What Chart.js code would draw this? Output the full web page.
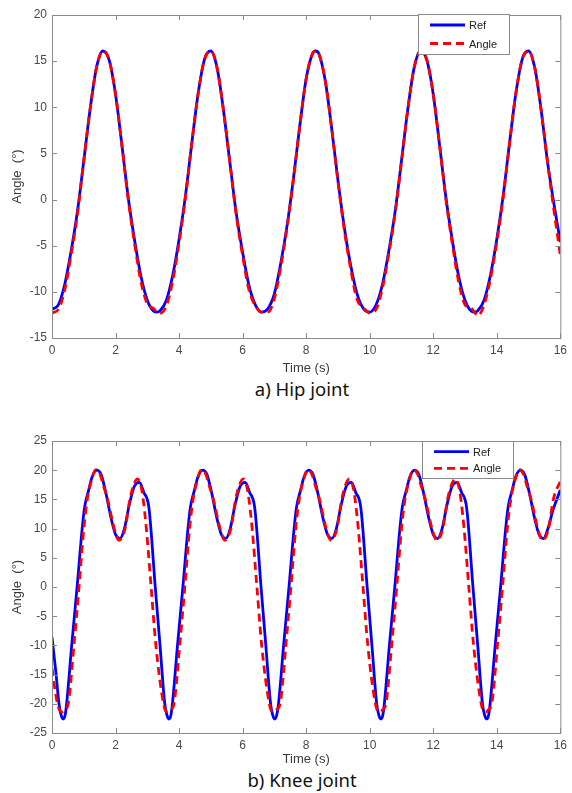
<!DOCTYPE html>
<html>
<head>
<meta charset="utf-8">
<script src="https://cdn.jsdelivr.net/npm/chart.js@4.4.0/dist/chart.umd.min.js"></script>
<style>
body{margin:0;background:#fff;width:572px;height:793px;position:relative;overflow:hidden}
canvas{position:absolute;left:0}
#hip{top:0}
#knee{top:420px}
.cap{position:absolute;left:0;width:604px;text-align:center;font-family:"Noto Sans",sans-serif;font-size:18.5px;line-height:20px;color:#111}
</style>
</head>
<body>
<canvas id="hip" width="572" height="376"></canvas>
<div class="cap" style="top:379px">a) Hip joint</div>
<canvas id="knee" width="572" height="347"></canvas>
<div class="cap" style="top:770px">b) Knee joint</div>
<script>
// ---- data ----
// hip joint, time (s) and angle (deg)
let hipTime=[0,0.2,0.4,0.6,0.8,1.0,1.2,1.4,1.6,1.8,2.0,2.2,2.4,2.6,2.8,3.0,3.2,3.3,3.4,3.6,3.8,
 4.0,4.2,4.4,4.6,4.8,5.0,5.2,5.4,5.6,5.8,6.0,6.2,6.4,6.6,6.8,7.0,7.2,7.4,7.6,7.8,8.0,8.2,8.3,8.4,8.6,8.8,
 9.0,9.2,9.4,9.6,9.8,10.0,10.2,10.4,10.6,10.8,11.0,11.2,11.4,11.6,11.8,12.0,12.2,12.4,12.6,12.8,13.0,13.2,13.3,13.4,13.6,13.8,
 14.0,14.2,14.4,14.6,14.8,15.0,15.2,15.4,15.6,15.8,16.0];
let hipRef=[-11.9,-11.4,-9.2,-5.6,-1.3,4.2,9.8,14.3,16.1,15.1,11.4,5.9,0.2,-4.4,-8.3,-10.9,-12.1,-12.2,-12.05,-10.9,-8.2,
 -4.3,0.4,6.1,11.5,15.2,16.1,14.2,9.6,4.0,-1.5,-5.7,-9.3,-11.4,-12.2,-11.8,-10.2,-6.9,-2.8,2.3,8.0,13.1,15.8,16.1,15.8,12.9,7.8,
 2.1,-3.0,-7.1,-10.2,-11.8,-12.2,-11.4,-9.2,-5.6,-1.3,4.2,9.8,14.3,16.1,15.1,11.4,5.9,0.2,-4.4,-8.3,-10.9,-12.1,-12.2,-12.05,-10.9,-8.2,
 -4.3,0.4,6.1,11.5,15.2,16.1,14.2,9.6,4.0,-0.5,-4.6];
let hipAngle=[-12.3,-11.9,-9.8,-6.0,-1.6,4.2,9.8,14.3,16.1,15.1,11.4,5.9,0.0,-4.8,-8.9,-11.3,-11.8,-12.2,-12.3,-11.5,-8.8,
 -4.7,0.2,6.1,11.5,15.2,16.1,14.2,9.6,4.0,-1.7,-6.1,-9.8,-11.5,-12.2,-12.2,-10.7,-7.3,-3.0,2.2,8.0,13.1,15.8,16.1,15.8,12.9,7.8,
 2.0,-3.3,-7.5,-10.8,-11.7,-12.3,-11.9,-9.6,-5.9,-1.5,4.1,9.8,14.3,16.1,15.1,11.4,5.9,0.0,-4.8,-8.9,-11.4,-11.8,-12.2,-12.6,-11.4,-8.6,
 -4.6,0.2,6.0,11.5,15.2,16.1,14.2,9.6,4.0,-1.2,-6.0];

// knee joint
let kneeRefTime=[0,0.12,0.22,0.29,0.35,0.41,0.46,0.62,0.79,0.95,1.03,1.15,1.26,1.41,1.55,1.70,1.85,2.00,2.14,2.28,2.43,2.59,2.75,2.89,3.05,3.25,3.40,3.55,3.62,3.68,
 3.74,3.79,3.95,4.12,4.28,4.36,4.48,4.59,4.74,4.88,5.03,5.18,5.33,5.47,5.61,5.76,5.92,6.08,6.22,6.38,6.58,6.73,6.88,6.95,7.01,
 7.07,7.13,7.29,7.46,7.62,7.70,7.82,7.93,8.08,8.22,8.37,8.52,8.67,8.81,8.95,9.10,9.26,9.42,9.56,9.72,9.92,10.07,10.22,10.29,10.35,
 10.41,10.46,10.62,10.79,10.95,11.03,11.15,11.26,11.41,11.55,11.70,11.85,12.00,12.14,12.28,12.43,12.59,12.75,12.89,13.05,13.25,13.40,13.55,13.62,13.68,
 13.74,13.79,13.95,14.12,14.28,14.36,14.48,14.59,14.74,14.88,15.03,15.18,15.33,15.47,15.61,15.76,16.0];
let kneeRef=[-8.6,-14.5,-20,-22.0,-22.6,-22.0,-20,-10,0,10,13.8,16.5,18.8,20.0,19.2,16,12,9.0,8.3,10.0,14.0,17.2,17.9,16.2,13.6,0,-10,-20,-22.0,-22.6,
 -22.0,-20,-10,0,10,13.8,16.5,18.8,20.0,19.2,16,12,9.0,8.3,10.0,14.0,17.2,17.9,16.2,13.6,0,-10,-20,-22.0,-22.6,
 -22.0,-20,-10,0,10,13.8,16.5,18.8,20.0,19.2,16,12,9.0,8.3,10.0,14.0,17.2,17.9,16.2,13.6,0,-10,-20,-22.0,-22.6,
 -22.0,-20,-10,0,10,13.8,16.5,18.8,20.0,19.2,16,12,9.0,8.3,10.0,14.0,17.2,17.9,16.2,13.6,0,-10,-20,-22.0,-22.6,
 -22.0,-20,-10,0,10,13.8,16.5,18.8,20.0,19.2,16,12,9.0,8.3,10.0,13.0,16.6];
let kneeAngleTime=[0,0.1,0.2,0.33,0.41,0.51,0.69,0.85,1.0,1.11,1.23,1.38,1.51,1.61,1.75,1.96,2.11,2.30,2.45,2.58,2.69,2.79,2.87,2.97,3.12,3.27,3.51,3.59,3.66,
 3.74,3.84,4.02,4.18,4.33,4.44,4.56,4.71,4.84,4.94,5.08,5.29,5.44,5.63,5.78,5.91,6.02,6.12,6.20,6.30,6.45,6.60,6.84,6.92,6.99,
 7.07,7.18,7.36,7.52,7.67,7.78,7.90,8.05,8.18,8.28,8.42,8.63,8.78,8.97,9.12,9.25,9.36,9.46,9.54,9.64,9.79,9.94,10.18,10.26,10.33,
 10.41,10.51,10.69,10.85,11.0,11.11,11.23,11.38,11.51,11.61,11.75,11.96,12.11,12.30,12.45,12.58,12.69,12.79,12.87,12.97,13.12,13.27,13.51,13.59,13.66,
 13.74,13.84,14.02,14.18,14.33,14.44,14.56,14.71,14.84,14.94,15.08,15.29,15.44,15.63,15.78,16.0];
let kneeAngle=[-13.9,-17.8,-20.6,-21.4,-21.0,-20,-10,0,10,15,18,20.1,19.3,17.5,15,10,8.0,10,15,17.6,18.5,17.5,15,10,0,-10,-20,-21.3,-21.4,
 -21.0,-20,-10,0,10,15,18,20.1,19.3,17.5,15,10,8.0,10,15,17.6,18.5,17.5,15,10,0,-10,-20,-21.3,-21.4,
 -21.0,-20,-10,0,10,15,18,20.1,19.3,17.5,15,10,8.0,10,15,17.6,18.5,17.5,15,10,0,-10,-20,-21.3,-21.4,
 -21.0,-20,-10,0,10,15,18,20.1,19.3,17.5,15,10,8.0,10,15,17.6,18.5,17.5,15,10,0,-10,-20,-21.3,-21.4,
 -21.0,-20,-10,0,10,15,18,20.1,19.3,17.5,15,10,8.0,10,15,18.1];

let seriesNames=['Ref','Angle'];
let timeTicks=[0,2,4,6,8,10,12,14,16];
let hipTicks=[-15,-10,-5,0,5,10,15,20];
let kneeTicks=[-25,-20,-15,-10,-5,0,5,10,15,20,25];

function pairs(t,v){
  let out=[];
  for(let i=0;i<t.length;i++) out.push({x:t[i],y:v[i]});
  return out;
}

// box round the plot, inward ticks on all four sides, and the legend
let frame={
  id:'frame',
  afterDatasetsDraw:function(chart,args,opt){
    let ctx=chart.ctx, a=chart.chartArea;
    let xs=chart.scales.x, ys=chart.scales.y;
    ctx.save();
    ctx.strokeStyle='#8a8a8a';
    ctx.lineWidth=1;
    ctx.setLineDash([]);
    ctx.strokeRect(a.left+0.5,a.top+0.5,a.right-a.left,a.bottom-a.top);
    ctx.beginPath();
    xs.ticks.forEach(function(t){
      let px=Math.round(xs.getPixelForValue(t.value))+0.5;
      ctx.moveTo(px,a.bottom);ctx.lineTo(px,a.bottom-5);
      ctx.moveTo(px,a.top);ctx.lineTo(px,a.top+5);
    });
    ys.ticks.forEach(function(t){
      let py=Math.round(ys.getPixelForValue(t.value))+0.5;
      ctx.moveTo(a.left,py);ctx.lineTo(a.left+5,py);
      ctx.moveTo(a.right,py);ctx.lineTo(a.right-5,py);
    });
    ctx.stroke();

    let lg=opt.legend;
    ctx.fillStyle='#fff';
    ctx.fillRect(lg.x,lg.y,lg.w,lg.h);
    ctx.strokeStyle='#8a8a8a';
    ctx.lineWidth=1;
    ctx.strokeRect(lg.x+0.5,lg.y+0.5,lg.w,lg.h);
    ctx.font='11px "Liberation Sans", Arial, sans-serif';
    ctx.textBaseline='middle';
    ctx.textAlign='left';
    chart.data.datasets.forEach(function(ds,i){
      let ry=lg.rows[i];
      ctx.strokeStyle=ds.borderColor;
      ctx.lineWidth=ds.borderWidth;
      ctx.setLineDash(ds.borderDash||[]);
      ctx.beginPath();
      ctx.moveTo(lg.x1,ry);ctx.lineTo(lg.x2,ry);
      ctx.stroke();
      ctx.fillStyle='#222';
      ctx.fillText(ds.label,lg.tx,ry+1);
    });
    ctx.restore();
  }
};

function makeChart(id,refPts,anglePts,yMin,yMax,yTicks,pad,xHeight,legend){
  let tickFont={family:'"Liberation Sans", Arial, sans-serif',size:12};
  let titleFont={family:'"Liberation Sans", Arial, sans-serif',size:13};
  return new Chart(document.getElementById(id),{
    type:'line',
    data:{datasets:[
      {label:seriesNames[0],data:refPts,borderColor:'#0000ff',borderWidth:2.8,pointRadius:0,
       cubicInterpolationMode:'monotone',order:1},
      {label:seriesNames[1],data:anglePts,borderColor:'#ff0000',borderWidth:2.8,borderDash:[8,5],pointRadius:0,
       cubicInterpolationMode:'monotone',order:0}
    ]},
    options:{
      responsive:false,
      animation:false,
      layout:{padding:pad},
      plugins:{legend:{display:false},tooltip:{enabled:false},frame:{legend:legend}},
      scales:{
        x:{type:'linear',min:0,max:16,
          afterBuildTicks:function(s){s.ticks=timeTicks.map(function(v){return {value:v};});},
          afterFit:function(s){s.height=xHeight;},
          grid:{display:false,drawTicks:false},border:{display:false},
          ticks:{color:'#4a4a4a',font:tickFont,padding:5,maxRotation:0},
          title:{display:true,text:'Time (s)',color:'#3a3a3a',font:titleFont,padding:{top:0,bottom:0}}
        },
        y:{type:'linear',min:yMin,max:yMax,
          afterBuildTicks:function(s){s.ticks=yTicks.map(function(v){return {value:v};});},
          afterFit:function(s){s.width=52;},
          grid:{display:false,drawTicks:false},border:{display:false},
          ticks:{color:'#4a4a4a',font:tickFont,padding:5},
          title:{display:true,text:'Angle  (°)',color:'#3a3a3a',font:titleFont,padding:{top:10,bottom:0}}
        }
      }
    },
    plugins:[frame]
  });
}

makeChart('hip',pairs(hipTime,hipRef),pairs(hipTime,hipAngle),-15,20,hipTicks,
  {left:0,right:6,top:15,bottom:0},38,
  {x:418,y:14,w:91,h:40,rows:[25,43.5],x1:430,x2:465,tx:469});
makeChart('knee',pairs(kneeRefTime,kneeRef),pairs(kneeAngleTime,kneeAngle),-25,25,kneeTicks,
  {left:0,right:8,top:21,bottom:0},34,
  {x:422,y:21,w:91,h:37,rows:[31.7,48.3],x1:434,x2:469,tx:473});
</script>
</body>
</html>
